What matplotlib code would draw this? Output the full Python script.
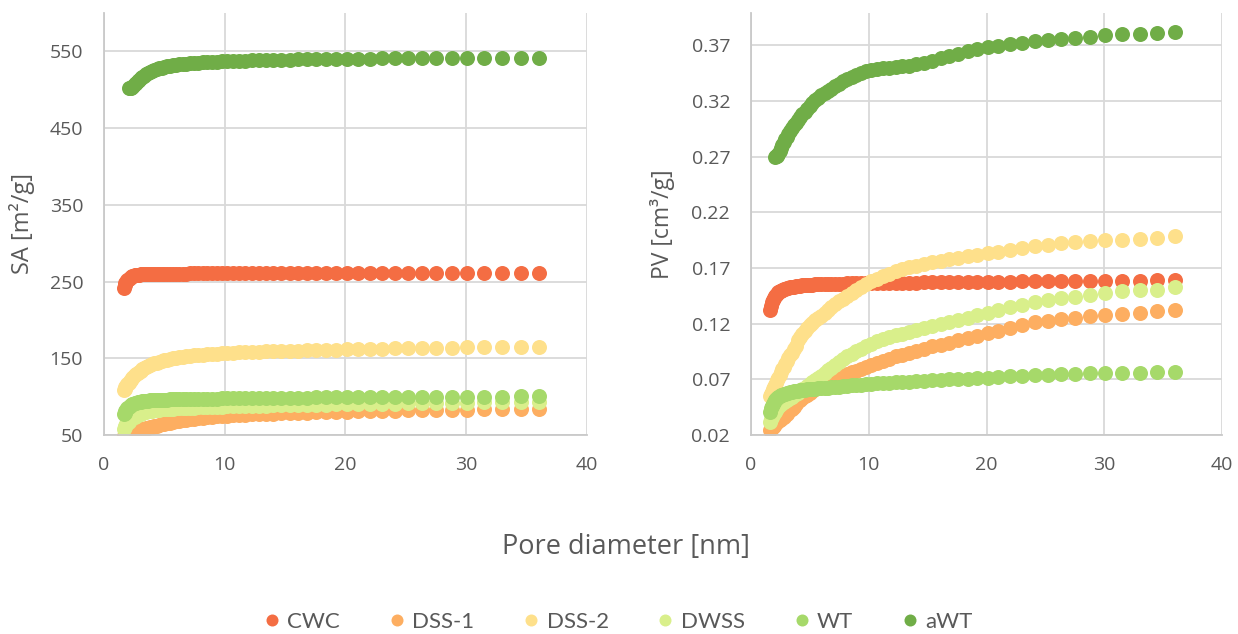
import numpy as np
import matplotlib
matplotlib.use("Agg")
import matplotlib.pyplot as plt

plt.rcParams['font.family'] = ['Open Sans', 'DejaVu Sans']

nan = np.nan

# pore diameter [nm], shared by every sample
pore_d = [
    1.62, 1.70, 1.78, 1.86, 1.94, 2.03, 2.12, 2.22, 2.32, 2.43,
    2.54, 2.66, 2.78, 2.91, 3.04, 3.18, 3.33, 3.48, 3.64, 3.81,
    3.98, 4.17, 4.36, 4.56, 4.77, 4.99, 5.22, 5.46, 5.71, 5.97,
    6.25, 6.53, 6.83, 7.15, 7.48, 7.82, 8.18, 8.56, 8.95, 9.36,
    9.79, 10.2, 10.7, 11.2, 11.7, 12.3, 12.8, 13.4, 14.0, 14.7,
    15.4, 16.1, 16.8, 17.6, 18.4, 19.2, 20.1, 21.0, 22.0, 23.0,
    24.1, 25.2, 26.3, 27.5, 28.8, 30.1, 31.5, 33.0, 34.5, 36.0,
]

# cumulative surface area [m2/g]
sa_cwc = [
    242, 245, 248, 250, 252, 253.5, 255, 256, 257, 257.5,
    258, 258.5, 259, 259, 259.3, 259.5, 259.7, 259.8, 260, 260,
    260, 260, 260.1, 260.1, 260.2, 260.2, 260.2, 260.3, 260.3, 260.3,
    260.4, 260.4, 260.4, 260.5, 260.5, 260.5, 260.5, 260.6, 260.6, 260.6,
    260.6, 260.7, 260.7, 260.7, 260.7, 260.8, 260.8, 260.8, 260.8, 260.8,
    260.9, 260.9, 260.9, 260.9, 260.9, 261, 261, 261, 261, 261,
    261, 261, 261, 261, 261.1, 261.1, 261.1, 261.1, 261.1, 261.1,
]
sa_dss1 = [
    49, 50, 51, 51.5, 52, 52.5, 53, 53.5, 54, 54.5,
    55, 55.5, 56, 56.5, 57, 57.5, 58, 58.7, 59.4, 60,
    60.7, 61.4, 62.2, 63, 63.8, 64.6, 65.4, 66.2, 67, 67.8,
    68.5, 69.2, 69.9, 70.6, 71.3, 71.9, 72.5, 73.1, 73.6, 74.1,
    74.6, 75.1, 75.6, 76, 76.4, 76.8, 77.2, 77.6, 78, 78.3,
    78.7, 79, 79.3, 79.6, 79.9, 80.2, 80.5, 80.8, 81.1, 81.4,
    81.7, 82, 82.3, 82.6, 82.9, 83.2, 83.4, 83.6, 83.8, 84,
]
sa_dss2 = [
    108, 110, 112, 114, 116, 118, 120, 122, 124, 126,
    128, 129.5, 131, 132.5, 134, 135.5, 137, 138.3, 139.6, 140.8,
    142, 143.2, 144.3, 145.4, 146.4, 147.3, 148.2, 149, 149.8, 150.5,
    151.2, 151.9, 152.5, 153.1, 153.7, 154.2, 154.7, 155.2, 155.7, 156.1,
    156.5, 156.9, 157.3, 157.7, 158, 158.3, 158.6, 158.9, 159.2, 159.5,
    159.8, 160.1, 160.4, 160.7, 161, 161.3, 161.6, 161.9, 162.2, 162.5,
    162.8, 163.1, 163.4, 163.7, 164, 164.2, 164.4, 164.6, 164.8, 165,
]
sa_dwss = [
    58, 60, 62, 64, 66, 67.5, 69, 70.5, 72, 73,
    74, 75, 76, 77, 78, 78.8, 79.5, 80.2, 80.8, 81.3,
    81.8, 82.2, 82.6, 83, 83.3, 83.6, 83.9, 84.2, 84.5, 84.7,
    85, 85.2, 85.4, 85.6, 85.8, 86, 86.2, 86.4, 86.6, 86.8,
    87, 87.2, 87.4, 87.6, 87.8, 88, 88.1, 88.3, 88.5, 88.7,
    88.9, 89.1, 89.3, 89.5, 89.7, 89.9, 90.1, 90.3, 90.5, 90.7,
    90.9, 91.1, 91.4, 91.6, 91.9, 92.1, 92.4, 92.6, 92.8, 93,
]
sa_wt = [
    77, 79, 81, 83, 85, 86.5, 88, 89, 90, 90.8,
    91.5, 92, 92.5, 93, 93.4, 93.8, 94.1, 94.4, 94.7, 95,
    95.2, 95.4, 95.6, 95.8, 96, 96.1, 96.2, 96.3, 96.4, 96.5,
    96.6, 96.7, 96.8, 96.9, 97, 97.1, 97.2, 97.3, 97.4, 97.5,
    97.6, 97.7, 97.8, 97.9, 98, 98.1, 98.2, 98.3, 98.4, 98.5,
    98.6, 98.7, 98.8, 98.9, 99, 99.1, 99.2, 99.3, 99.4, 99.5,
    99.6, 99.7, 99.8, 99.9, 100, 100, 100.1, 100.1, 100.2, 100.2,
]
sa_awt = [
    nan, nan, nan, nan, nan, 502, 502, 502.5, 503, 505,
    507, 509, 511, 513, 515, 517, 518.5, 520, 521.5, 523,
    524.3, 525.5, 526.7, 527.8, 528.8, 529.7, 530.5, 531.2, 531.9, 532.5,
    533, 533.5, 534, 534.4, 534.8, 535.2, 535.6, 536, 536.3, 536.6,
    536.9, 537.2, 537.5, 537.8, 538, 538.3, 538.5, 538.7, 538.9, 539.1,
    539.3, 539.5, 539.7, 539.9, 540, 540.2, 540.3, 540.5, 540.6, 540.7,
    540.8, 540.9, 541, 541.1, 541.2, 541.3, 541.3, 541.4, 541.4, 541.5,
]

# cumulative pore volume [cm3/g]
pv_cwc = [
    .132, .136, .139, .141, .143, .1445, .146, .147, .148, .149,
    .1497, .1503, .1508, .1513, .1518, .1522, .1526, .153, .1533, .1536,
    .1539, .1541, .1543, .1545, .1547, .1549, .1551, .1552, .1553, .1554,
    .1555, .1556, .1557, .1558, .1559, .156, .1561, .1562, .1563, .1564,
    .1565, .1566, .1566, .1567, .1567, .1568, .1568, .1569, .1569, .157,
    .157, .1571, .1572, .1573, .1574, .1575, .1576, .1577, .1578, .1579,
    .158, .1581, .1582, .1583, .1584, .1585, .1586, .1587, .1588, .1589,
]
pv_dss1 = [
    .0245, .0255, .0265, .0275, .0285, .0295, .0305, .0315, .0325, .0335,
    .0345, .0355, .0366, .0378, .0391, .0405, .042, .0437, .0455, .0478,
    .0503, .0518, .0533, .0548, .0563, .0578, .0594, .061, .0627, .0645,
    .0665, .0684, .0696, .0708, .0721, .0734, .0747, .0762, .0777, .0792,
    .081, .0828, .0847, .0866, .0885, .0905, .0922, .094, .0957, .0975,
    .0995, .1012, .103, .105, .1072, .1093, .1115, .1137, .116, .119,
    .1215, .1227, .1238, .125, .1265, .1278, .129, .1298, .131, .1325,
]
pv_dss2 = [
    .055, .057, .059, .061, .063, .065, .067, .069, .071, .074,
    .0765, .079, .0815, .084, .0865, .089, .0915, .094, .097, .100,
    .105, .108, .111, .1135, .116, .1185, .121, .123, .125, .127,
    .130, .1325, .135, .1375, .140, .1425, .145, .1475, .150, .1525,
    .1555, .158, .1605, .163, .165, .167, .1688, .1705, .172, .1735,
    .175, .1765, .178, .1793, .1805, .1817, .183, .1843, .1858, .188,
    .1894, .1907, .192, .193, .194, .195, .1955, .196, .197, .1984,
]
pv_dwss = [
    .032, .034, .036, .038, .0395, .041, .0425, .044, .0452, .0465,
    .0475, .0485, .0495, .0505, .0515, .0525, .0535, .0545, .0557, .0568,
    .058, .0595, .061, .0625, .064, .0657, .0675, .0693, .0712, .0732,
    .0758, .078, .0805, .083, .0855, .088, .0905, .093, .095, .097,
    .0995, .102, .1045, .1065, .108, .1095, .111, .1125, .1142, .116,
    .118, .1198, .1215, .1235, .1255, .1277, .1298, .132, .1345, .137,
    .1395, .141, .1427, .144, .146, .1478, .149, .150, .1505, .1526,
]
pv_wt = [
    .041, .044, .046, .048, .0495, .051, .052, .053, .054, .0548,
    .0555, .056, .0566, .0571, .0576, .058, .0584, .0588, .0592, .0595,
    .0598, .0601, .0604, .0607, .061, .0612, .0614, .0617, .0619, .0621,
    .0623, .0626, .0629, .0632, .0635, .0638, .0641, .0645, .0649, .0653,
    .0657, .066, .0663, .0666, .0669, .0672, .0675, .0679, .0683, .0687,
    .0691, .0695, .0699, .0703, .0707, .0711, .0716, .0721, .0727, .0733,
    .0738, .0742, .0746, .075, .0753, .0756, .0759, .0761, .0764, .0766,
]
pv_awt = [
    nan, nan, nan, nan, nan, .270, .2705, .271, .2725, .275,
    .278, .2805, .283, .2855, .288, .2905, .293, .2955, .298, .3005,
    .303, .3055, .308, .3105, .313, .3155, .318, .3205, .323, .3255,
    .327, .329, .331, .3335, .3355, .3375, .3395, .3415, .3435, .3455,
    .347, .3478, .3485, .3492, .3498, .3504, .351, .3518, .3528, .3545,
    .3563, .3582, .3602, .3624, .3645, .3665, .3685, .3698, .371, .3725,
    .374, .375, .376, .3767, .3775, .379, .380, .380, .381, .382,
]

samples = ['CWC', 'DSS-1', 'DSS-2', 'DWSS', 'WT', 'aWT']
colors = ['#F46D43', '#FDAE61', '#FEE08B', '#D9EF8B', '#A6D96A', '#70AD47']
sa_data = [sa_cwc, sa_dss1, sa_dss2, sa_dwss, sa_wt, sa_awt]
pv_data = [pv_cwc, pv_dss1, pv_dss2, pv_dwss, pv_wt, pv_awt]

txt = '#595959'
fig = plt.figure(figsize=(12.38, 6.34), dpi=100)
ax1 = fig.add_axes([0.0840, 0.3139, 0.3901, 0.6656])
ax2 = fig.add_axes([0.6066, 0.3139, 0.3805, 0.6656])

for ax, data in [(ax1, sa_data), (ax2, pv_data)]:
    for name, c, y in zip(samples, colors, data):
        ax.plot(pore_d, y, 'o', ms=10.8, color=c, mec='none', label=name)
    ax.set_xlim(0, 40)
    ax.set_xticks([0, 10, 20, 30, 40])
    ax.grid(True, color='#D9D9D9', lw=1.3)
    ax.set_axisbelow(True)
    for s in ['top', 'right']:
        ax.spines[s].set_visible(False)
    for s in ['left', 'bottom']:
        ax.spines[s].set_color('#C9C9C9')
        ax.spines[s].set_linewidth(1.3)
    ax.tick_params(length=0, labelsize=14, labelcolor=txt)
    ax.tick_params(axis='y', pad=15)
    ax.tick_params(axis='x', pad=15)

ax1.set_ylim(50, 600)
ax1.set_yticks(np.arange(50, 551, 100))
ax1.set_ylabel('SA [m²/g]', fontsize=17, color=txt)
ax1.yaxis.set_label_coords(-0.143, 0.5)

ax2.set_ylim(0.02, 0.399)
ax2.set_yticks([0.02, 0.07, 0.12, 0.17, 0.22, 0.27, 0.32, 0.37])
ax2.set_yticklabels(['0.02', '0.07', '0.12', '0.17', '0.22', '0.27', '0.32', '0.37'])
ax2.set_ylabel('PV [cm³/g]', fontsize=16.5, color=txt)
ax2.yaxis.set_label_coords(-0.161, 0.5)

fig.text(0.506, 1 - 547 / 634, 'Pore diameter [nm]', fontsize=19.5, color=txt,
         ha='center', va='center')

handles, labels = ax1.get_legend_handles_labels()
fig.legend(handles, labels, loc='center', bbox_to_anchor=(0.5, 1 - 622 / 634),
           ncol=6, frameon=False, prop={'family': 'Lato', 'size': 16},
           labelcolor=txt, markerscale=0.8,
           handlelength=0.6, handletextpad=0.4, columnspacing=2.25)

fig.savefig('out.png', dpi=100)
